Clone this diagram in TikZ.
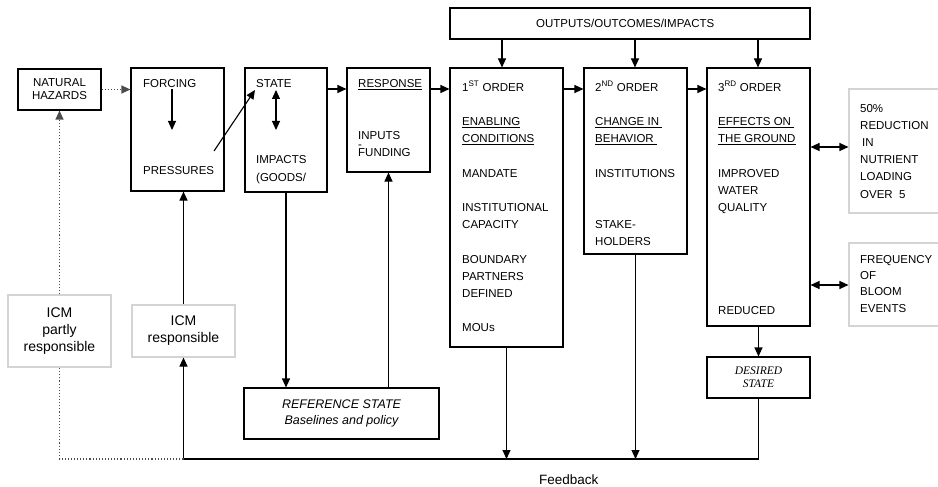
\documentclass[tikz,border=0pt]{standalone}
\usepackage{fontspec}
\setmainfont{Liberation Sans}
\newfontfamily\seriffont{Liberation Serif}
\usetikzlibrary{arrows.meta}

\begin{document}
\begin{tikzpicture}[x=1pt, y=-1pt]
        % Line spacing used inside the boxes
        \pgfmathsetmacro{\gap}{17.2}

        % Styles of boxes, texts and connectors
        \tikzset{
            box/.style={draw, line width=1.1pt, inner sep=0pt},
            graybox/.style={draw=black!17, line width=1.1pt, inner sep=0pt},
            txt/.style={inner sep=0pt, anchor=base west, align=left,
                font=\fontsize{11.5}{17.2}\selectfont},
            arr/.style={line width=1.1pt, -{Triangle[length=9pt, width=8pt]}},
            dblarr/.style={line width=1.1pt,
                {Triangle[length=9pt, width=8pt]}-{Triangle[length=9pt, width=8pt]}},
            dots/.style={line width=1.1pt, dotted, black!70},
        }

        \useasboundingbox (0, 0) rectangle (938, 487);

        % Boxes of the chain
        \node[box, minimum width=360pt, minimum height=31pt] (outputs) at (630, 23.5) {};
        \node[box, minimum width=83pt, minimum height=41pt] (natural) at (59.5, 89.5) {};
        \node[box, minimum width=93pt, minimum height=123pt] (forcing) at (177.5, 129.5) {};
        \node[box, minimum width=82pt, minimum height=124pt] (state) at (286, 130) {};
        \node[box, minimum width=83pt, minimum height=104pt] (response) at (388.5, 120) {};
        \node[box, minimum width=113pt, minimum height=279pt] (first) at (506.5, 207.5) {};
        \node[box, minimum width=103pt, minimum height=186pt] (second) at (635.5, 161) {};
        \node[box, minimum width=103pt, minimum height=258pt] (third) at (758.5, 197) {};
        \node[box, minimum width=103pt, minimum height=41pt] (desired) at (758.5, 377.5) {};
        \node[box, minimum width=195pt, minimum height=51pt] (reference) at (341.5, 413.5) {};

        % Light boxes
        \node[graybox, minimum width=96pt, minimum height=124pt] (reduction) at (897, 151) {};
        \node[graybox, minimum width=96pt, minimum height=83pt] (frequency) at (897, 284.5) {};
        \node[graybox, minimum width=103pt, minimum height=72pt] (partly) at (59.5, 331) {};
        \node[graybox, minimum width=103pt, minimum height=52pt] (icm) at (183.5, 331) {};

        % Texts (the base of a text block is its last line)
        \node[txt] (outputs text) at (536, 28) {OUTPUTS/OUTCOMES/IMPACTS};
        \node[inner sep=0pt, align=center, font=\fontsize{11.5}{13}\selectfont]
            (natural text) at (natural) {NATURAL\\HAZARDS};
        \node[txt] (forcing text) at (143, 88) {FORCING};
        \node[txt] (pressures text) at (143, 174) {PRESSURES};
        \node[txt] (state text) at (256, 88) {STATE};
        \node[txt] (impacts text) at (256, 181) {IMPACTS\\(GOODS/};
        \node[txt] (response text) at (358, 88) {\underline{RESPONSE}};
        \node[txt] (inputs text) at (358, 157)
            {INPUTS\\\rlap{\raisebox{8pt}{-}}FUNDING};
        \node[txt] (first text) at (462, 91+14*\gap) {%
            1\textsuperscript{ST} ORDER\\[\gap pt]
            \underline{ENABLING}\\
            \underline{CONDITIONS}\\[\gap pt]
            MANDATE\\[\gap pt]
            INSTITUTIONAL\\
            CAPACITY\\[\gap pt]
            BOUNDARY\\
            PARTNERS\\
            DEFINED\\[\gap pt]
            MOUs};
        \node[txt] (second text) at (595, 91+9*\gap) {%
            2\textsuperscript{ND} ORDER\\[\gap pt]
            \underline{CHANGE IN\ }\\
            \underline{BEHAVIOR\ }\\[\gap pt]
            INSTITUTIONS\\[2*\gap pt]
            STAKE-\\
            HOLDERS};
        \node[txt] (third text) at (718, 91+13*\gap) {%
            3\textsuperscript{RD} ORDER\\[\gap pt]
            \underline{EFFECTS ON\ }\\
            \underline{THE GROUND}\\[\gap pt]
            IMPROVED\\
            WATER\\
            QUALITY\\[5*\gap pt]
            REDUCED};
        \node[txt] (reduction text) at (860, 112+5*\gap)
            {50\%\\REDUCTION\\\hspace{2pt}IN\\NUTRIENT\\LOADING\\OVER\ \ 5};
        \node[txt, font=\fontsize{11.5}{16.3}\selectfont] (frequency text) at (860, 312)
            {FREQUENCY\\OF\\BLOOM\\EVENTS};
        \node[inner sep=0pt, align=center, font=\seriffont\itshape\fontsize{11.5}{13}\selectfont]
            (desired text) at (desired) {DESIRED\\STATE};
        \node[inner sep=0pt, align=center, font=\itshape\fontsize{12.5}{16.5}\selectfont]
            (reference text) at (reference) {REFERENCE STATE\\Baselines and policy};
        \node[inner sep=0pt, align=center, font=\fontsize{14}{17}\selectfont]
            (partly text) at (partly) {ICM\\partly\\responsible};
        \node[inner sep=0pt, align=center, font=\fontsize{14}{17}\selectfont]
            (icm text) at (icm) {ICM\\responsible};
        \node[txt, font=\fontsize{13.5}{16}\selectfont] (feedback text) at (539, 484) {Feedback};

        % Helper coordinates
        \coordinate (row) at (0, 89);
        \coordinate (feed) at (0, 459);
        \coordinate (o1) at (502, 0);
        \coordinate (o2) at (635, 0);
        \coordinate (o3) at (758, 0);
        \coordinate (force top) at (172, 89);
        \coordinate (force bottom) at (172, 130);
        \coordinate (diag start) at (214, 151);
        \coordinate (diag end) at (255, 90);
        \coordinate (state top) at (276, 90);
        \coordinate (state bottom) at (276, 130);

        % Connectors along the chain
        \begin{scope}
            \draw[arr] (force top) -- (force bottom);
            \draw[arr] (diag start) -- (diag end);
            \draw[dblarr] (state top) -- (state bottom);
            \draw[arr] (state.east |- row) -- (response.west |- row);
            \draw[arr] (response.east |- row) -- (first.west |- row);
            \draw[arr] (first.east |- row) -- (second.west |- row);
            \draw[arr] (second.east |- row) -- (third.west |- row);

            \draw[arr] (outputs.south -| o1) -- (first.north -| o1);
            \draw[arr] (outputs.south -| o2) -- (second.north -| o2);
            \draw[arr] (outputs.south -| o3) -- (third.north -| o3);

            \draw[dblarr] (third.east |- 0,147) -- (reduction.west |- 0,147);
            \draw[dblarr] (third.east |- 0,285) -- (frequency.west |- 0,285);
            \draw[arr] (third.south) -- (desired.north);

            \draw[arr] (state.south) -- (state.south |- reference.north);
            \draw[arr] (response.south |- reference.north) -- (response.south);
        \end{scope}

        % Feedback loop
        \begin{scope}
            \draw[arr] (desired.south) |- (icm.south |- feed) -- (icm.south);
            \draw[arr] (icm.north) -- (icm.north |- forcing.south);
            \draw[arr] (first.south) -- (first.south |- feed);
            \draw[arr] (second.south) -- (second.south |- feed);
        \end{scope}

        % Dotted links
        \begin{scope}
            \draw[dots] (icm.south |- feed) -- (partly.south |- feed) -- (partly.south);
            \draw[dots, -{Triangle[length=9pt, width=8pt]}] (partly.north) -- (natural.south);
            \draw[dots, -{Triangle[length=9pt, width=8pt]}] (natural.east) -- (natural.east -| forcing.west);
        \end{scope}

\end{tikzpicture}
\end{document}
